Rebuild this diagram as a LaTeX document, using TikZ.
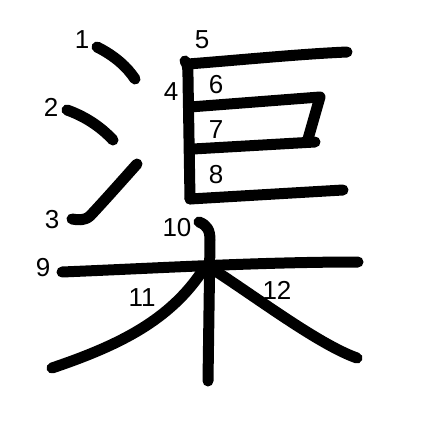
\documentclass[tikz,border=0pt]{standalone}
\usepackage{fontspec}
\setmainfont{Liberation Sans}
\begin{document}
\begin{tikzpicture}[x=1pt,y=-1pt,
  strk/.style={line width=11pt,line cap=round,line join=round},
  num/.style={font=\fontsize{26}{26}\selectfont,inner sep=0pt}]
\useasboundingbox[fill=white] (0,0) rectangle (447,447);
% strokes
\draw[strk] (97,47) .. controls (115,56) and (127,67) .. (135,79);
\draw[strk] (67,110) .. controls (84,116) and (100,126) .. (113,140);
\draw[strk] (137,164) .. controls (120,183) and (105,200) .. (90,216) .. controls (84,221) and (78,220) .. (72,219);
\draw[strk] (185,61) .. controls (188,64) and (188,70) .. (188,78) -- (190,199);
\draw[strk] (188,64) .. controls (240,60) and (300,54) .. (347,52);
\draw[strk] (190,107) -- (320,97) -- (308,139);
\draw[strk] (193,149) -- (315,142);
\draw[strk] (190,199) -- (343,190);
\draw[strk] (62,272) .. controls (160,268) and (260,262) .. (358,262);
\draw[strk] (199,222) .. controls (207,225) and (210,230) .. (210,240) -- (208,381);
\draw[strk] (203,270) .. controls (170,320) and (120,345) .. (52,368);
\draw[strk] (217,272) .. controls (260,300) and (320,345) .. (357,358);
% numbers
\node[num] (n1) at (82,40) {1};
\node[num] (n2) at (51,107) {2};
\node[num] (n3) at (52,220) {3};
\node[num] (n4) at (171,92) {4};
\node[num] (n5) at (202,40) {5};
\node[num] (n6) at (216,85) {6};
\node[num] (n7) at (216,130) {7};
\node[num] (n8) at (216,175) {8};
\node[num] (n9) at (43,268) {9};
\node[num] (n10) at (177,228) {10};
\node[num] (n11) at (142,298) {11};
\node[num] (n12) at (277,290) {12};
\end{tikzpicture}
\end{document}
